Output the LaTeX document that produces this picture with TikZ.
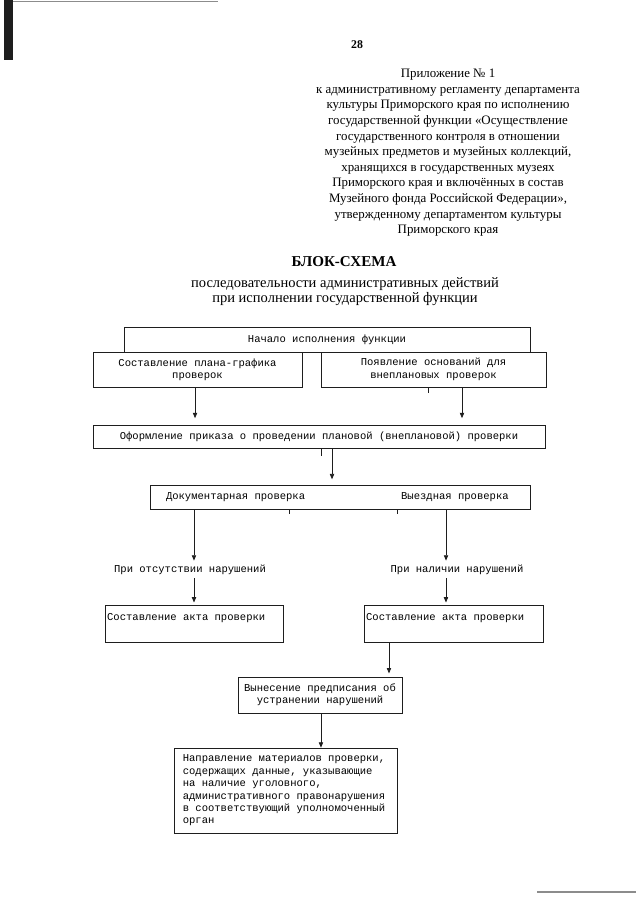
\documentclass[tikz,border=0pt]{standalone}
\usepackage{fontspec}
\setmainfont{Liberation Serif}
\newfontfamily\boxfont{Liberation Mono}
\usetikzlibrary{arrows.meta,calc}
\definecolor{ink}{HTML}{1E1E1E}
\definecolor{scan}{HTML}{8C8C8C}
\tikzset{
  box/.style={draw=ink, line width=0.6pt, font=\boxfont\fontsize{9.8}{11.5}\selectfont, inner sep=0pt, align=center,
    execute at begin node={\spaceskip=0pt\xspaceskip=0pt}},
  lbl/.style={font=\boxfont\fontsize{9.8}{11.5}\selectfont, inner sep=1pt},
  arr/.style={-{Triangle[length=5pt,width=4pt]}, line width=0.7pt, draw=ink},
  tick/.style={line width=0.6pt, draw=ink},
  hdr/.style={font=\fontsize{12}{14.5}\selectfont, align=center, inner sep=0pt}
}

\begin{document}
\begin{tikzpicture}[x=0.93pt, y=-0.93pt]
  \useasboundingbox (0,0) rectangle (640,905);
  % scan marks
  \fill[ink] (4,0) rectangle (13,60);
  \draw[scan, line width=1.5pt] (13,1.5) -- (218,1.5);
  \draw[scan, line width=1.5pt] (537,892) -- (636,892);

  % header
  \node[font=\bfseries\fontsize{11}{12}\selectfont, inner sep=0pt] (pagenum) at (357,45) {28};
  \node[hdr, anchor=north] (appx) at (448,69) {Приложение № 1\\
    к административному регламенту департамента\\
    культуры Приморского края по исполнению\\
    государственной функции «Осуществление\\
    государственного контроля в отношении\\
    музейных предметов и музейных коллекций,\\
    хранящихся в государственных музеях\\
    Приморского края и включённых в состав\\
    Музейного фонда Российской Федерации»,\\
    утвержденному департаментом культуры\\
    Приморского края};
  \node[font=\bfseries\fontsize{14}{15}\selectfont, inner sep=0pt] (title) at (344,262) {БЛОК-СХЕМА};
  \node[hdr, font=\fontsize{13.5}{14}\selectfont] (subtitle) at (345,292) {последовательности административных действий\\
    при исполнении государственной функции};

  % boxes
  \node[box, minimum width=377.6pt, minimum height=23.3pt] (start) at (327,339.5) {Начало исполнения функции};
  \node[box, minimum width=194.4pt, minimum height=32.6pt] (plan) at (197.5,369.5) {Составление плана-графика\\проверок};
  \node[box, minimum width=209.3pt, minimum height=32.6pt] (unpl) at (433.5,369.5) {Появление оснований для\\внеплановых проверок};
  \node[box, minimum width=420.4pt, minimum height=21.4pt] (order) at (319,436.5) {Оформление приказа о проведении плановой (внеплановой) проверки};
  \node[box, text width=353.4pt, align=left, minimum height=22.3pt] (check) at (340,497)
    {\hspace*{14.9pt}Документарная проверка\hspace{89.3pt}Выездная проверка};
  \node[lbl] (lblno) at (190,570) {При отсутствии нарушений};
  \node[lbl] (lblyes) at (457,570) {При наличии нарушений};
  \node[box, text width=161.5pt, inner xsep=2pt, align=left, minimum height=34.4pt] (actA) at (194,623.5) {Составление акта проверки\\\mbox{}};
  \node[box, text width=162.5pt, inner xsep=2pt, align=left, minimum height=34.4pt] (actB) at (453.5,623.5) {Составление акта проверки\\\mbox{}};
  \node[box, minimum width=152.5pt, minimum height=33.5pt] (pres) at (320,695) {Вынесение предписания об\\устранении нарушений};
  \node[box, text width=191pt, inner xsep=8.2pt, align=left, minimum height=79pt] (send) at (285.5,790.5)
    {Направление материалов проверки,\\
     содержащих данные, указывающие\\
     на наличие уголовного,\\
     административного правонарушения\\
     в соответствующий уполномоченный\\
     орган};

  % arrows
  \draw[arr, shorten >=6pt] ([xshift=-2.3pt]plan.south) -- ([xshift=-2.3pt]plan.south |- order.north);
  \draw[arr, shorten >=6pt] ([xshift=26.5pt]unpl.south) -- ([xshift=26.5pt]unpl.south |- order.north);
  \draw[arr, shorten >=5pt] ([xshift=12.1pt]order.south) -- ([xshift=12.1pt]order.south |- check.north);
  \draw[arr, shorten >=3pt] ([xshift=-135.8pt]check.south) -- ([xshift=-135.8pt]check.south |- lblno.north);
  \draw[arr, shorten <=2pt, shorten >=2pt] (actA.north |- lblno.south) -- (actA.north);
  \draw[arr, shorten >=3pt] ([xshift=98.6pt]check.south) -- ([xshift=98.6pt]check.south |- lblyes.north);
  \draw[arr, shorten <=2pt, shorten >=2pt] ([xshift=-7pt]actB.north |- lblyes.south) -- ([xshift=-7pt]actB.north);
  \draw[arr, shorten >=3pt] ([xshift=-60pt]actB.south) -- ([xshift=-60pt]actB.south |- pres.north);
  \draw[arr] ([xshift=0.9pt]pres.south) -- ([xshift=0.9pt]pres.south |- send.north);

  % ticks
  \draw[tick] ([xshift=-5pt]unpl.south) -- ++(0,6);
  \draw[tick] ([xshift=1.7pt]order.south) -- ++(0,8);
  \draw[tick] ([xshift=-47.4pt]check.south) -- ++(0,5);
  \draw[tick] ([xshift=53pt]check.south) -- ++(0,5);
\end{tikzpicture}
\end{document}
